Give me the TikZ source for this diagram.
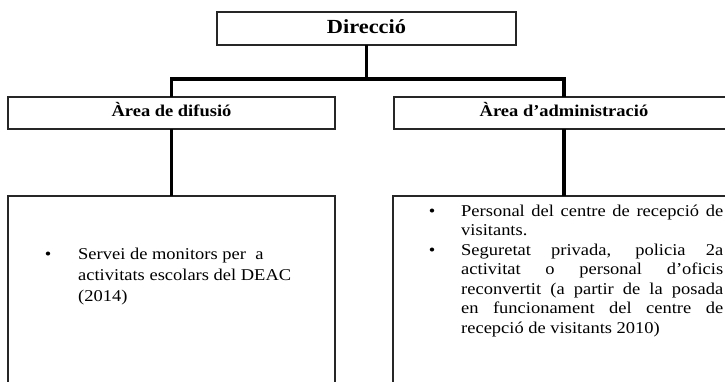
\documentclass[tikz,border=0pt]{standalone}
\usepackage{fontspec}
\setmainfont{Liberation Serif}[FakeStretch=1.12]
\tikzset{
  box/.style={draw=black!85, line width=1.1pt, rectangle, inner sep=0pt, outer sep=0pt, anchor=north west},
  conn/.style={line width=3.7pt, line join=miter, black},
  headbig/.style={font=\fontsize{20}{24}\selectfont\bfseries},
  headsmall/.style={font=\fontsize{16.5}{20}\selectfont\bfseries},
  bodyL/.style={font=\fontsize{16.5}{21}\selectfont, inner sep=0pt, anchor=north west, align=left},
  bodyR/.style={font=\fontsize{16.5}{19.5}\selectfont, inner sep=0pt, anchor=north west, align=left},
  bul/.style={inner sep=0pt, anchor=base, font=\fontsize{16.5}{20}\selectfont}
}
\begin{document}
\begin{tikzpicture}[x=1pt,y=-1pt]
\useasboundingbox (0,0) rectangle (725,381);
\clip (0,0) rectangle (725,381);
% boxes
\node[box, headbig, minimum width=299pt, minimum height=33pt, text height=9pt, text depth=0pt] (dir) at (217,12) {Direcció};
\node[box, headsmall, minimum width=327pt, minimum height=32pt, text height=6pt, text depth=0pt] (areaL) at (8,97) {Àrea de difusió};
\node[box, headsmall, minimum width=340pt, minimum height=32pt, text height=6pt, text depth=0pt] (areaR) at (394,97) {Àrea d’administració};
\node[box, minimum width=327pt, minimum height=220pt] (lowL) at (8,196) {};
\node[box, minimum width=350pt, minimum height=220pt] (lowR) at (393,196) {};
% connectors
\coordinate (bar) at (366.5,79);
\draw[conn] (dir.south) -- (bar);
\draw[conn] (areaL.north) |- (bar) -| (areaR.north);
\draw[conn] (areaL.south) -- (lowL.north);
\draw[conn] (areaR.south) -- (areaR.south |- lowR.north);
% left text
\node[bul] (bL) at (48,259) {•};
\node[bodyL] (txtL) at (78,247.5) {Servei de monitors per\ \ a\\activitats escolars del DEAC\\(2014)};
% right text
\node[bul] (bR1) at (432,216) {•};
\node[bul] (bR2) at (432,255) {•};
\node[bodyR] (txtR) at (461,204.5) {%
\makebox[262pt][s]{Personal del centre de recepció de}\\
visitants.\\
\makebox[262pt][s]{Seguretat privada, policia 2a}\\
\makebox[262pt][s]{activitat o personal d’oficis}\\
\makebox[262pt][s]{reconvertit (a partir de la posada}\\
\makebox[262pt][s]{en funcionament del centre de}\\
recepció de visitants 2010)};
\end{tikzpicture}
\end{document}
